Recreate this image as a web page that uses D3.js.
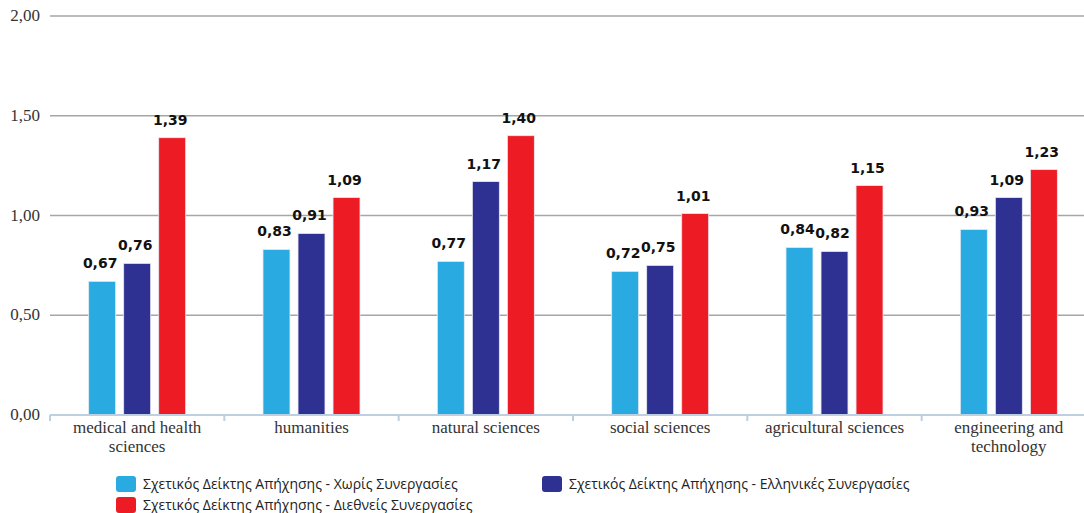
<!DOCTYPE html>
<html><head><meta charset="utf-8">
<script src="https://cdn.jsdelivr.net/npm/d3@7"></script>
<style>body{margin:0;background:#fff;} svg{display:block;}</style>
</head><body>
<svg id="c" width="1084" height="513"></svg>
<script>
const categories = [["medical and health","sciences"],["humanities"],["natural sciences"],["social sciences"],["agricultural sciences"],["engineering and","technology"]];
const seriesNames = ["Σχετικός Δείκτης Απήχησης - Χωρίς Συνεργασίες","Σχετικός Δείκτης Απήχησης - Ελληνικές Συνεργασίες","Σχετικός Δείκτης Απήχησης - Διεθνείς Συνεργασίες"];
const noCollab = [0.67,0.83,0.77,0.72,0.84,0.93];
const greekCollab = [0.76,0.91,1.17,0.75,0.82,1.09];
const intlCollab = [1.39,1.09,1.40,1.01,1.15,1.23];
const yTicks = [0,0.5,1,1.5,2];
const colors = ["#29abe2","#2e3192","#ed1c24"];

const series = [noCollab, greekCollab, intlCollab];
const svg = d3.select("#c");
const fmt = v => d3.format(".2f")(v).replace(".", ",");
const catIdx = d3.range(categories.length);
const x = d3.scaleBand().domain(catIdx).range([50, 1096]).paddingInner(0).paddingOuter(0);
const y = d3.scaleLinear().domain([0,2]).range([415, 16]);
const inner = d3.scaleBand().domain([0,1,2]).range([0, 97]).paddingInner(0.23);

// gridlines
svg.append("g").selectAll("line").data(yTicks.filter(t=>t>0)).join("line")
  .attr("x1",50).attr("x2",1084).attr("y1",d=>y(d)).attr("y2",d=>y(d))
  .attr("stroke","#a6a6a6").attr("stroke-width",1.5);

// y labels
svg.append("g").selectAll("text").data(yTicks).join("text")
  .attr("x",40).attr("y",d=>y(d)+5).attr("text-anchor","end")
  .attr("font-family","Liberation Serif, serif").attr("font-size",17).attr("fill","#333")
  .text(fmt);

// bars
const g = svg.append("g");
series.forEach((s,si)=>{
  g.append("g").selectAll("rect").data(s).join("rect")
    .attr("x",(d,i)=>x(i)+x.bandwidth()/2-48.5+inner(si))
    .attr("y",d=>y(d)).attr("width",inner.bandwidth()).attr("height",d=>y(0)-y(d))
    .attr("fill",colors[si]).attr("stroke","#e6e9f2").attr("stroke-width",0.8);
  g.append("g").selectAll("text").data(s).join("text")
    .attr("x",(d,i)=>x(i)+x.bandwidth()/2-48.5+inner(si)+inner.bandwidth()/2-2)
    .attr("y",d=>y(d)-13).attr("text-anchor","middle")
    .attr("font-family","DejaVu Sans, Verdana, sans-serif").attr("font-weight","bold").attr("font-size",14).attr("fill","#111")
    .text(fmt);
});

// x axis
svg.append("line").attr("x1",50).attr("x2",1084).attr("y1",y(0)).attr("y2",y(0))
  .attr("stroke","#bcd0e2").attr("stroke-width",2);
svg.append("g").selectAll("line").data(catIdx).join("line")
  .attr("x1",d=>x(d)).attr("x2",d=>x(d)).attr("y1",y(0)).attr("y2",y(0)+6)
  .attr("stroke","#bcd0e2").attr("stroke-width",2);
const cl = svg.append("g").selectAll("text").data(categories).join("text")
  .attr("x",(d,i)=>x(i)+x.bandwidth()/2).attr("y",433).attr("text-anchor","middle")
  .attr("font-family","Liberation Serif, serif").attr("font-size",17).attr("fill","#333");
cl.selectAll("tspan").data(d=>d).join("tspan")
  .attr("x",function(){return this.parentNode.getAttribute("x");})
  .attr("dy",(d,i)=>i?19:0).text(d=>d);

// legend
const legPos = [[116,476],[542,476],[116,497]];
const lg = svg.append("g").selectAll("g").data(seriesNames).join("g")
  .attr("transform",(d,i)=>`translate(${legPos[i][0]},${legPos[i][1]})`);
lg.append("rect").attr("width",20).attr("height",16).attr("rx",3).attr("fill",(d,i)=>colors[i]);
lg.append("text").attr("x",27).attr("y",13).attr("font-family","Open Sans, sans-serif").attr("font-size",14).attr("fill","#222").text(d=>d);
</script>
</body></html>
